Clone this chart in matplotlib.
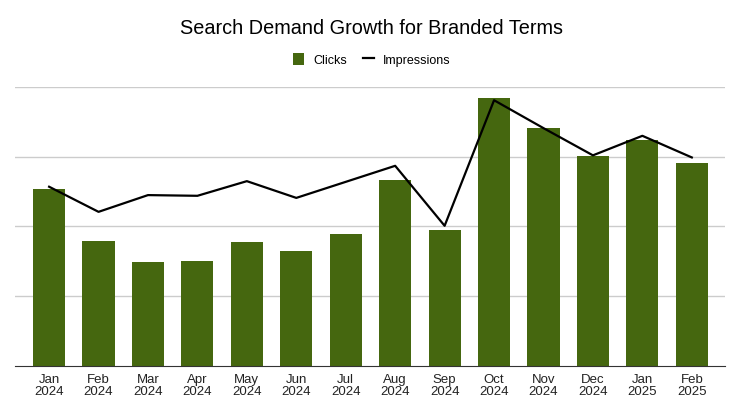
import matplotlib.pyplot as plt
import numpy as np

plt.rcParams['font.family'] = ['Liberation Sans', 'DejaVu Sans']

# data (y axis hidden, gridline step = 1000)
months = ["Jan\n2024", "Feb\n2024", "Mar\n2024", "Apr\n2024", "May\n2024", "Jun\n2024",
          "Jul\n2024", "Aug\n2024", "Sep\n2024", "Oct\n2024", "Nov\n2024", "Dec\n2024",
          "Jan\n2025", "Feb\n2025"]
clicks = [2540, 1790, 1490, 1510, 1780, 1650, 1890, 2670, 1950, 3840, 3410, 3010, 3240, 2910]
impressions = [2570, 2210, 2450, 2440, 2650, 2410, 2640, 2870, 2010, 3810, 3410, 3020, 3300, 2990]

x = np.arange(len(months))

fig = plt.figure(figsize=(7.42, 4.19), dpi=100)
ax = fig.add_axes([0.0202, 0.1265, 0.9568, 0.6659])

bars = ax.bar(x, clicks, width=0.65, color="#45670f", label="Clicks", zorder=2)
line, = ax.plot(x, impressions, color="black", linewidth=1.6, label="Impressions", zorder=3)

ax.set_xlim(-0.69, 13.67)
ax.set_ylim(0, 4000)
ax.set_yticks([1000, 2000, 3000, 4000])
ax.yaxis.grid(True, color="#cccccc", linewidth=1)
ax.set_axisbelow(True)
ax.tick_params(axis="y", left=False, labelleft=False)
ax.set_xticks(x)
ax.set_xticklabels(months, fontsize=9.5, color="#222222", linespacing=1.0)
ax.tick_params(axis="x", length=0, pad=6)

for s in ["top", "right", "left"]:
    ax.spines[s].set_visible(False)
ax.spines["bottom"].set_color("#333333")

fig.text(0.5, 0.932, "Search Demand Growth for Branded Terms", ha="center", va="center", fontsize=14.3)
fig.legend([bars, line], ["Clicks", "Impressions"], loc="center", bbox_to_anchor=(0.501, 0.857),
           ncol=2, frameon=False, fontsize=9, handlelength=0.9, handleheight=1.1,
           columnspacing=1.3, handletextpad=0.7)

plt.savefig("out.png", dpi=100)
